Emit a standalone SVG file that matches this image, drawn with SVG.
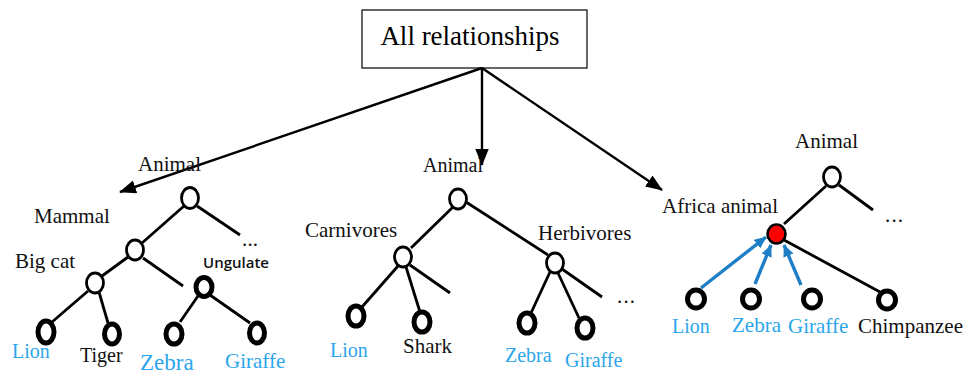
<svg xmlns="http://www.w3.org/2000/svg" width="968" height="376" viewBox="0 0 968 376">
  <defs>
    <marker id="arrowBlack" viewBox="0 0 10 8" refX="9.5" refY="4" markerWidth="7" markerHeight="5.6" markerUnits="strokeWidth" orient="auto">
      <path d="M0,0 L10,4 L0,8 z" fill="#000"/>
    </marker>
    <marker id="arrowBlue" viewBox="0 0 10 9" refX="9.5" refY="4.5" markerWidth="3.6" markerHeight="3.2" markerUnits="strokeWidth" orient="auto">
      <path d="M0,0 L10,4.5 L0,9 z" fill="#1f7fc6"/>
    </marker>
  </defs>
  <style>
    .lbl { font-family: "Liberation Serif", "DejaVu Serif", serif; font-size: 21px; fill: #111; }
    .blue { fill: #2ba6ec; }
    .sans { font-family: "Open Sans", "Liberation Sans", sans-serif; font-size: 15px; font-weight: 600; fill: #111; }
    .edge { stroke: #000; stroke-width: 2.8; fill: none; }
    .inner { fill: #fff; stroke: #000; stroke-width: 2.8; }
    .leaf { fill: #fff; stroke: #000; stroke-width: 5; }
    .main { stroke: #000; stroke-width: 2.4; fill: none; marker-end: url(#arrowBlack); }
    .barrow { stroke: #1f7fc6; stroke-width: 3.4; fill: none; marker-end: url(#arrowBlue); }
  </style>
  <rect width="968" height="376" fill="#fff"/>

  <!-- top box -->
  <g id="all-relationships">
    <rect x="362" y="10" width="225" height="58" fill="#fff" stroke="#000" stroke-width="1.2"/>
    <text class="lbl" x="470" y="45" text-anchor="middle" style="font-size:27px;fill:#000">All relationships</text>
  </g>

  <!-- connectors -->
  <g id="connectors">
    <line class="main" x1="482" y1="68" x2="120" y2="192"/>
    <line class="main" x1="482" y1="68" x2="482" y2="165"/>
    <line class="main" x1="482" y1="68" x2="662" y2="190"/>

    <!-- left tree edges -->
    <line class="edge" x1="184" y1="206" x2="142" y2="243"/>
    <line class="edge" x1="197" y1="206" x2="240" y2="235"/>
    <line class="edge" x1="128" y1="257" x2="102" y2="276"/>
    <line class="edge" x1="143" y1="258" x2="183" y2="286"/>
    <line class="edge" x1="88" y1="291" x2="52" y2="322"/>
    <line class="edge" x1="99" y1="292" x2="108" y2="323"/>
    <line class="edge" x1="198" y1="296" x2="180" y2="322"/>
    <line class="edge" x1="210" y1="295" x2="250" y2="323"/>

    <!-- middle tree edges -->
    <line class="edge" x1="453" y1="207" x2="411" y2="248"/>
    <line class="edge" x1="466" y1="202" x2="548" y2="255"/>
    <line class="edge" x1="398" y1="266" x2="362" y2="307"/>
    <line class="edge" x1="406" y1="267" x2="420" y2="312"/>
    <line class="edge" x1="410" y1="265" x2="450" y2="293"/>
    <line class="edge" x1="550" y1="272" x2="531" y2="313"/>
    <line class="edge" x1="558" y1="273" x2="579" y2="318"/>
    <line class="edge" x1="562" y1="269" x2="602" y2="297"/>

    <!-- right tree edges -->
    <line class="edge" x1="826" y1="186" x2="784" y2="224"/>
    <line class="edge" x1="839" y1="185" x2="873" y2="210"/>
    <line class="edge" x1="784" y1="240" x2="880" y2="292"/>
    <line class="barrow" x1="701" y1="288" x2="766" y2="237"/>
    <line class="barrow" x1="755" y1="284" x2="771" y2="245"/>
    <line class="barrow" x1="801" y1="285" x2="784" y2="245"/>
  </g>

  <!-- left tree: mammals -->
  <g id="left-animal">
    <text class="lbl" x="138" y="171">Animal</text>
    <ellipse class="inner" cx="190" cy="198" rx="8.5" ry="10.5"/>
    <text class="lbl" x="242" y="246" textLength="16">...</text>
  </g>
  <g id="left-mammal">
    <text class="lbl" x="34" y="223">Mammal</text>
    <ellipse class="inner" cx="135" cy="250" rx="8.5" ry="10"/>
  </g>
  <g id="left-bigcat">
    <text class="lbl" x="15" y="268">Big cat</text>
    <ellipse class="inner" cx="95" cy="283" rx="8.5" ry="10"/>
  </g>
  <g id="left-ungulate">
    <text class="sans" x="203" y="268">Ungulate</text>
    <ellipse class="leaf" cx="204" cy="287" rx="8" ry="9.5"/>
  </g>
  <g id="left-lion">
    <ellipse class="leaf" cx="46" cy="332" rx="8" ry="11"/>
    <text class="lbl blue" x="12" y="358" style="font-size:20px">Lion</text>
  </g>
  <g id="left-tiger">
    <ellipse class="leaf" cx="112" cy="334" rx="7.5" ry="10"/>
    <text class="lbl" x="80" y="362" style="font-size:20px">Tiger</text>
  </g>
  <g id="left-zebra">
    <ellipse class="leaf" cx="174" cy="334" rx="8" ry="10"/>
    <text class="lbl blue" x="140" y="370" style="font-size:23px">Zebra</text>
  </g>
  <g id="left-giraffe">
    <ellipse class="leaf" cx="257" cy="333" rx="7.5" ry="10"/>
    <text class="lbl blue" x="225" y="368">Giraffe</text>
  </g>

  <!-- middle tree: diet -->
  <g id="mid-animal">
    <text class="lbl" x="423" y="172" style="font-size:20px">Animal</text>
    <ellipse class="inner" cx="458" cy="199" rx="8.5" ry="10"/>
  </g>
  <g id="mid-carnivores">
    <text class="lbl" x="305" y="237">Carnivores</text>
    <ellipse class="inner" cx="403" cy="257" rx="8.5" ry="10"/>
  </g>
  <g id="mid-herbivores">
    <text class="lbl" x="538" y="240">Herbivores</text>
    <ellipse class="inner" cx="555" cy="263" rx="8.5" ry="10"/>
    <text class="lbl" x="617" y="303" textLength="18">...</text>
  </g>
  <g id="mid-lion">
    <ellipse class="leaf" cx="356" cy="316" rx="8" ry="10"/>
    <text class="lbl blue" x="330" y="357" style="font-size:20px">Lion</text>
  </g>
  <g id="mid-shark">
    <ellipse class="leaf" cx="422" cy="322" rx="8" ry="10"/>
    <text class="lbl" x="403" y="353">Shark</text>
  </g>
  <g id="mid-zebra">
    <ellipse class="leaf" cx="527" cy="323" rx="8" ry="10"/>
    <text class="lbl blue" x="505" y="362" style="font-size:20px">Zebra</text>
  </g>
  <g id="mid-giraffe">
    <ellipse class="leaf" cx="585" cy="328" rx="8" ry="10"/>
    <text class="lbl blue" x="565" y="367" style="font-size:20px">Giraffe</text>
  </g>

  <!-- right tree: region -->
  <g id="right-animal">
    <text class="lbl" x="795" y="148">Animal</text>
    <ellipse class="inner" cx="832" cy="177" rx="8.5" ry="10"/>
    <text class="lbl" x="885" y="222" textLength="18">...</text>
  </g>
  <g id="right-africa">
    <text class="lbl" x="662" y="213">Africa animal</text>
    <ellipse cx="776.5" cy="234" rx="9" ry="9.5" fill="#f00" stroke="#000" stroke-width="2.6"/>
  </g>
  <g id="right-lion">
    <ellipse class="leaf" cx="696" cy="299" rx="8.5" ry="9"/>
    <text class="lbl blue" x="672" y="333" style="font-size:20px">Lion</text>
  </g>
  <g id="right-zebra">
    <ellipse class="leaf" cx="751" cy="299" rx="8.5" ry="9"/>
    <text class="lbl blue" x="732" y="332">Zebra</text>
  </g>
  <g id="right-giraffe">
    <ellipse class="leaf" cx="812" cy="299" rx="8.5" ry="9"/>
    <text class="lbl blue" x="788" y="333">Giraffe</text>
  </g>
  <g id="right-chimpanzee">
    <ellipse class="leaf" cx="887" cy="300" rx="8.5" ry="9"/>
    <text class="lbl" x="858" y="333">Chimpanzee</text>
  </g>
</svg>
